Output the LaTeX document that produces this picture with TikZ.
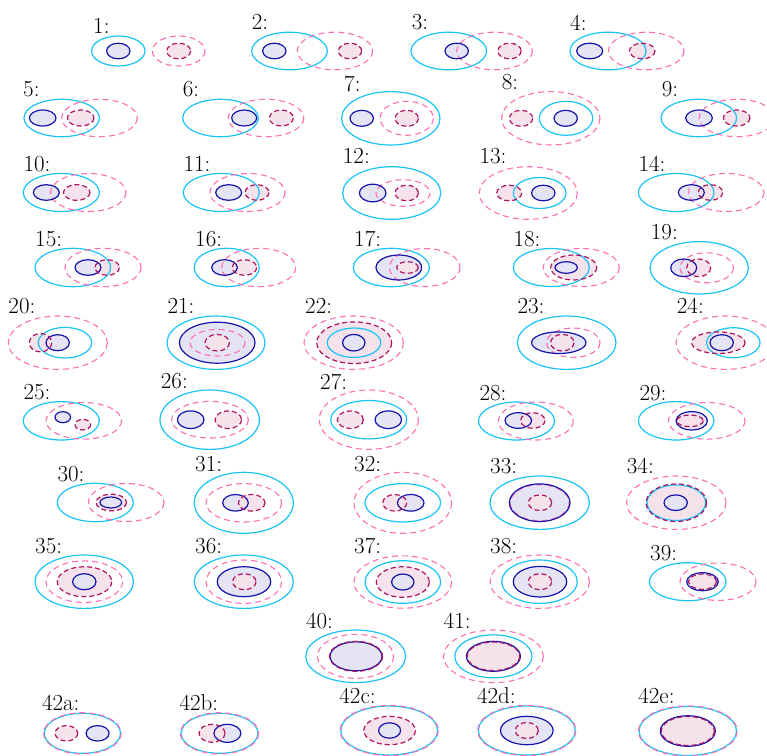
\documentclass[tikz,border=0pt]{standalone}
\usepackage{tikz}

\definecolor{outblue}{RGB}{25,195,245}
\definecolor{inblue}{RGB}{20,20,170}
\definecolor{blfill}{RGB}{228,228,245}
\definecolor{outpink}{RGB}{255,110,180}
\definecolor{inpink}{RGB}{175,20,95}
\definecolor{pkfill}{RGB}{245,226,235}

\def\elp(#1,#2,#3,#4){(#1,#2) ellipse (#3 and #4)}
\newcommand\cfgdraw[6]{%
  \node[lbl] (l#1) at (#2) {#1:};
  \draw[bouter] \elp(#3);
  \draw[pouter] \elp(#5);
  \draw[binner] \elp(#4);
  \draw[pinner] \elp(#6);}
\newcommand\cfg[6]{\fill[fillb] \elp(#4); \fill[fillp] \elp(#6);
  \cfgdraw{#1}{#2}{#3}{#4}{#5}{#6}}
\newcommand\cfgb[6]{\fill[fillp] \elp(#6); \fill[fillb] \elp(#4);
  \cfgdraw{#1}{#2}{#3}{#4}{#5}{#6}}

\begin{document}
\begin{tikzpicture}[x=1pt,y=-1pt,
  lbl/.style={anchor=base west,inner sep=0pt,font=\fontsize{23}{27}\selectfont},
  bouter/.style={outblue,line width=1.2pt},
  binner/.style={inblue,line width=1.2pt},
  pouter/.style={outpink,line width=1.1pt,dash pattern=on 6pt off 4pt},
  pinner/.style={inpink,line width=1.2pt,dash pattern=on 5pt off 3pt},
  fillb/.style={blfill},
  fillp/.style={pkfill}]
\clip (0,0) rectangle (767,755);

\cfg{1}{93,33}{118.3,51,26.7,15}{118.3,51,11.7,7.8}{178.7,51,26.3,15}{178.7,51,12,7.8}
\cfg{2}{251.7,29.3}{289.5,51,37.8,18.8}{274.3,51,11.7,7.8}{335,51,37.7,18.8}{350,51,11.7,7.8}
\cfg{3}{411.7,29.3}{448.8,51,37.8,18.8}{456.7,51,11.7,7.8}{494.5,51,37.8,18.8}{509.5,51,11.7,7.8}
\cfg{4}{570,30}{608,51,38,18.8}{589.7,51,13,7.8}{646.2,51,37.8,18.8}{642.2,51,12.8,7.8}

\cfg{5}{23,96.7}{61.7,118,37.7,18.7}{42.7,118,13.3,8}{99.5,118,37.8,18.7}{80.7,118,13.3,8}
\cfg{6}{182.7,96.7}{220.5,118,37.8,18.7}{244.2,118,12.5,8}{266,118,37.8,18.7}{281.3,118,12,8}
\cfg{7}{344,91.7}{390.8,118.3,49.2,26.7}{361.7,118.3,11.7,8}{406.7,118.3,26.7,17}{406.7,118.3,11.7,8}
\cfg{8}{501.7,89.3}{566,118.3,26.7,17}{565.7,118.3,11.7,8}{550.8,118.3,49.2,26.7}{521,118.3,11.7,8}
\cfg{9}{661.7,96}{698.8,118,37.8,18.7}{699,118,13.3,8}{737,118,37.8,18.7}{736.7,118,13.3,8}

\cfg{10}{23.3,171.7}{61.3,192.5,38,19}{46.3,192.5,13,7.8}{88.3,192.5,37.7,19}{76.7,192.5,13.3,7.8}
\cfg{11}{183.3,171.7}{221.3,192.5,38,19}{228.7,192.5,13,7.8}{247.5,192.5,37.5,19}{257,192.5,12,7.8}
\cfg{12}{342.7,163.3}{391.7,193,49,26.3}{372.7,193,13.3,8.8}{403,193,27,13.3}{406.7,193,11.7,7.8}
\cfg{13}{479.3,163.3}{539.7,193,26.3,15.5}{543.3,193,11.7,7.8}{528.3,193,49,26.3}{509.2,193,12.5,7.8}
\cfg{14}{638.3,171.7}{676.2,192.5,37.8,19}{691.3,192.5,13,7.8}{726.2,192.5,37.8,19}{710.5,192.5,12.2,7.8}

\cfg{15}{35,246}{72.8,267.5,37.8,19.2}{88,267.5,13,7.8}{103,267.5,38,19.2}{107.2,267.5,12.2,7.8}
\cfg{16}{195,246}{226.7,267.5,32.5,19.2}{224.5,267.5,12.8,7.8}{258.7,267.5,37,19.2}{244.5,267.5,12.2,7.8}
\cfg{17}{354,246}{391.3,267.5,38,19.2}{398.8,267.5,22.8,12.5}{424.7,267.5,35.3,19}{407.5,267.5,10.8,5.8}
\cfgb{18}{513.3,246}{551.3,267.5,38,19}{566.2,267.5,11.2,5.8}{581.3,267.5,38,19}{573.7,267.5,23,12.5}
\cfg{19}{650.7,239.3}{699.2,267.8,49.2,26.2}{683.7,267.8,13,8.8}{706.7,267.8,26.7,15}{698.7,267.8,12,8.8}

\cfg{20}{8.3,313.3}{65,342.7,26.7,15.3}{57.7,342.7,11.7,8}{57.8,342.7,49.5,26.7}{40.5,342.7,11.2,9.2}
\cfg{21}{167.3,313.3}{216,342.7,49,26.7}{217.2,342.7,37.8,20.5}{217.5,342.7,27.5,13.3}{217.2,342.7,12.2,8.3}
\cfgb{22}{305,313.3}{354,342.7,26.7,14.7}{353.8,342.7,11.2,8.3}{353.7,342.7,49.7,26.7}{354.2,342.7,37.5,20.8}
\cfg{23}{517.3,313.3}{566.7,342.7,49.3,26.7}{558.8,342.7,27.2,10.8}{573.3,342.7,26.7,14.7}{562.3,342.7,11.7,8.3}
\cfgb{24}{676.7,313.3}{733.3,342.7,26.7,15}{721.7,342.7,11.7,8}{725.5,342.7,49.5,26.7}{718.3,342.7,26.7,10.8}

\cfg{25}{23.3,399.3}{61.3,420.8,38,19.2}{62.8,417.2,7.8,5.5}{83.8,420.8,37.8,18.3}{82.8,424.7,7.8,5.3}
\cfg{26}{160.7,388}{209.7,419.7,49.7,29.7}{190.7,419.7,13.3,8.8}{210,419.7,38.3,18.3}{228.3,419.7,13.3,8.8}
\cfg{27}{320,389.3}{368.7,419.7,38,19.2}{388.3,419.7,13.3,8.8}{368.8,419.7,49.5,29.7}{350.3,419.7,13,8.8}
\cfg{28}{479.3,400}{516.5,421,38,19}{518.3,420.5,13.3,7.8}{535.8,421,37.5,19}{532.8,420.5,12.2,7.8}
\cfg{29}{639.3,400}{676.2,420.8,37.8,19.2}{691.7,420.8,15.7,9.2}{706.7,420.8,38.3,18.3}{690,420.8,13.3,5.8}

\cfgb{30}{57.3,481.7}{95.3,502.5,38,19.2}{110.8,502.5,10.8,5.5}{126.2,502.5,37.8,19}{111.3,502.5,15.3,8.3}
\cfg{31}{195,471.7}{243.8,502.8,49.5,30.5}{235.5,502.8,12.8,8.3}{243.8,502.8,37.8,19.2}{251.7,502.8,13.3,8.3}
\cfg{32}{354,471.7}{402.8,502.8,37.8,19.2}{410.7,502.8,13.3,8.3}{402.8,502.8,48.8,30.5}{394.7,502.8,12,8.3}
\cfg{33}{490,473.3}{539.7,502.7,49.7,26.7}{539.7,502.7,30.3,18.8}{539.7,502.7,29.5,18}{540,502.7,11.7,7.8}
\cfgb{34}{626.7,473.3}{676.3,502.7,29.3,17.8}{675.7,502.7,11.7,7.8}{676.3,502.7,49.7,26.7}{676.3,502.7,30.3,18.8}

\cfgb{35}{35,553.3}{84.2,581.7,49.2,26.7}{84.3,581.7,11.7,8}{84.3,581.7,38.3,20.8}{84.5,581.7,27.2,15}
\cfg{36}{195,553.3}{243.8,581.7,49.5,26.7}{244,581.7,26.7,15}{243.8,581.7,37.8,21.7}{244.3,581.7,11.7,8}
\cfgb{37}{354,553.3}{402.8,582,37.8,21.3}{402.8,582,11.2,8}{402.8,582,48.8,26.2}{402.8,582,26.5,15.3}
\cfg{38}{490,553.3}{539.5,581.7,37.8,21.7}{540,581.7,26.7,15.3}{539.7,581.7,49.7,26.7}{540,581.7,11.7,8}
\cfg{39}{650,560}{687.7,581.7,38.3,19}{702.5,581.7,15.8,9}{718,581.7,38,18.7}{702.5,581.7,14,7.7}

\cfgb{40}{305.8,628.3}{355.7,656.3,49.9,26.3}{356,656.3,26,14.5}{355.5,656.3,38.1,22}{356,656.3,26.5,15}
\cfg{41}{443.5,628.3}{493.4,656.3,38.6,21.5}{493.4,656.3,27,15}{493.4,656.3,49.9,26.3}{493.4,656.3,26.3,14.3}

\cfg{42a}{41.8,710}{82.4,733.3,38.1,20}{97.6,733.3,11.5,7.7}{82.4,733.3,38.8,20.6}{66.4,733.3,11.3,7.7}
\cfg{42b}{179.4,710}{219.5,733.3,38.5,20}{227.4,733.3,13.5,9}{219.5,733.3,39.2,20.6}{212,733.3,13,9}
\cfgb{42c}{339.2,703.3}{389.2,730.5,48.4,24.5}{389.6,730.5,11,7.7}{389.2,730.5,49.1,25.1}{389.6,730.5,25.8,14.2}
\cfg{42d}{476.9,703.3}{526.8,730.5,48.4,24.5}{526.8,730.5,26.3,14.2}{526.8,730.5,49.1,25.1}{526.8,730.5,11.5,8}
\cfg{42e}{638.1,703.3}{687.8,731,48.7,24.5}{687.8,731,27.5,15.3}{687.8,731,49.4,25.1}{687.8,731,26.5,14.5}
\end{tikzpicture}
\end{document}
